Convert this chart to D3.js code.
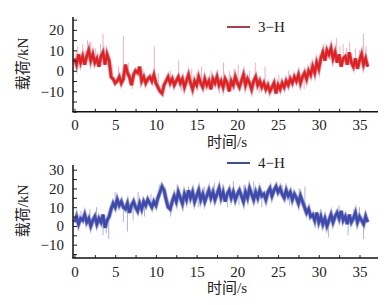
<!DOCTYPE html>
<html>
<head>
<meta charset="utf-8">
<script src="https://cdn.jsdelivr.net/npm/d3@7"></script>
<style>
  body { margin: 0; background: #fff; }
  svg text { font-family: "Liberation Serif", "DejaVu Serif", serif; fill: #222; }
  .cjk { font-family: "Noto Sans CJK SC", sans-serif; }
</style>
</head>
<body>
<div id="chart"></div>
<script>
// sample step of both records (s)
const dt = 0.25;

// 3-H load record, kN, one value every 0.25 s from 0 to 36 s
const load3H = [
  6, 3, 8, 4, 7,
  3, 7, 10, 5,   8, 4, 6, 2,   7, 9, 3, 8,   5, -3, -4, -6,
  -5, -3, -6, -4,   3, -1, -3, -7,   -2, 0, -1, 2,   -5, -3, -6, -4,
  -3, -5, -2, -6,   -8, -10, -11, -7,   -5, -3, -6, -4,   -7, -5, -3, -6,
  -4, -8, -5, -2,   -6, -9, -5, -7,   -3, -6, -8, -4,   -7, -5, -9, -4,
  -6, -3, -7, -5,   -8, -4, -6, -10,   -5, -7, -3, -6,   -8, -5, -2, -7,
  -4, -6, -9, -5,   -3, -7, -5, -8,   -6, -9, -7, -10,   -8, -6, -11, -7,
  -9, -6, -8, -5,   -7, -4, -6, -3,   -5, -2, -6, -3,   -1, -4, 0, -2,
  2, -1, 4, 1,   6, 9, 5, 10,   8, 11, 6, 9,   4, 8, 2, 6,
  7, 3, 9, 4,   2, 6, 1, 5,   8, 3, 6, 2
];
// short peaks of the 3-H record: [time s, load kN]
const peaks3H = [
  [0.2, 10], [0.4, 12], [0.7, 9], [1.0, 13], [1.3, 10], [1.6, 15], [2.0, 14],
  [2.3, 11], [2.6, 11], [3.2, 13], [3.5, 18], [3.9, 12], [4.6, 3], [5.4, 2],
  [6.0, 17], [6.6, 4], [7.1, -9], [8.4, 1], [9.8, 12], [10.3, -1], [10.7, -12],
  [11.8, 0], [12.8, 5], [13.1, -10], [14.4, 1], [15.0, -1], [15.6, 2],
  [16.8, 0], [17.4, -1], [17.8, -11], [18.3, 4], [19.0, 0], [19.6, 1],
  [20.1, 3], [21.0, -1], [21.5, 0], [22.2, 4], [22.7, -11], [23.4, 2],
  [24.6, -12], [25.1, -2], [26.3, 0], [27.0, -1], [27.6, 1], [28.2, -9],
  [29.0, 4], [29.6, 6], [30.1, 8], [30.6, 13], [31.0, 12], [31.5, 14],
  [32.2, 16], [32.6, 12], [33.0, 13], [33.4, 11], [33.8, 14], [34.5, 11],
  [35.0, 10], [35.5, 18], [35.8, 12]
];

// 4-H load record, kN, one value every 0.25 s from 0 to 36 s
const load4H = [
  2, 5, 1, 4, 3,
  6, 2, 4, 0,   3, 5, 1, 4,   2, 6, -1, 3,   5, 9, 12, 10,
  14, 11, 13, 10,   9, 12, 7, 11,   13, 10, 8, 12,   9, 13, 11, 14,
  12, 10, 13, 11,   15, 18, 21, 19,   14, 10, 9, 13,   16, 13, 18, 15,
  12, 17, 14, 19,   15, 18, 13, 16,   19, 14, 17, 13,   16, 19, 15, 18,
  14, 17, 20, 15,   18, 13, 17, 19,   15, 18, 14, 17,   19, 16, 13, 18,
  15, 20, 17, 14,   18, 15, 19, 16,   17, 14, 18, 20,   16, 19, 21, 18,
  20, 17, 15, 19,   16, 18, 14, 17,   15, 12, 16, 13,   10, 7, 9, 5,
  6, 3, 7, 2,   5, 1, 4, 0,   3, 6, 2, 5,   7, 4, 8, 3,
  5, 1, 6, 2,   4, 7, 2, 5,   3, 1, 5, 2
];
const peaks4H = [
  [0.8, 8], [1.4, 7], [1.9, 9], [2.7, 10], [3.5, -5], [3.9, -4], [4.2, -7],
  [5.0, 18], [6.0, 2], [6.5, -3], [7.2, 3], [7.8, 18], [8.6, 5], [9.4, 17],
  [10.4, 22], [11.8, 5], [12.6, 22], [13.3, 8], [14.0, 21], [15.2, 10],
  [16.0, 21], [17.2, 23], [18.2, 22], [18.8, 10], [19.5, 24], [20.2, 11],
  [20.8, 22], [22.0, 24], [23.0, 10], [24.1, 22], [25.5, 22], [26.4, 11],
  [27.6, 20], [28.3, 21], [29.6, -1], [30.2, 9], [31.2, -6], [32.5, 11],
  [33.6, -5], [34.3, 9], [35.0, 10], [35.5, -7], [35.8, 8]
];

const xTicks = d3.range(0, 36, 2.5);

const svg = d3.select("#chart").append("svg")
  .attr("width", 392).attr("height", 305);

const x = d3.scaleLinear().domain([0, 35]).range([74.5, 359.5]);

function drawPanel(cfg) {
  const y = d3.scaleLinear().domain(cfg.yDomain).range([cfg.bottom, cfg.top]);
  const g = svg.append("g");

  // light peaks
  g.selectAll(".peak")
    .data(cfg.peaks)
    .join("line")
    .attr("x1", d => x(d[0]))
    .attr("x2", d => x(d[0]))
    .attr("y1", d => y(cfg.values[Math.min(cfg.values.length - 1, Math.round(d[0] / dt))]))
    .attr("y2", d => y(d[1]))
    .attr("stroke", cfg.light)
    .attr("stroke-width", 1);

  const line = d3.line()
    .x((d, i) => x(i * dt))
    .y(d => y(d));

  g.append("path")
    .datum(cfg.values)
    .attr("fill", "none")
    .attr("stroke", cfg.light)
    .attr("stroke-width", 5)
    .attr("stroke-opacity", 0.7)
    .attr("d", line);

  g.append("path")
    .datum(cfg.values)
    .attr("fill", "none")
    .attr("stroke", cfg.dark)
    .attr("stroke-width", 3.4)
    .attr("stroke-opacity", 0.6)
    .attr("d", line);

  g.append("path")
    .datum(cfg.values)
    .attr("fill", "none")
    .attr("stroke", cfg.color)
    .attr("stroke-width", 2)
    .attr("d", line);

  // y axis, ticks pointing inward
  const yAxis = d3.axisLeft(y)
    .tickValues(cfg.yTicks)
    .tickSizeInner(-4)
    .tickSizeOuter(0)
    .tickPadding(9)
    .tickFormat(d => (cfg.yLabels.includes(d) ? d3.format("d")(d) : ""));
  const ya = g.append("g").attr("transform", "translate(73,0)").call(yAxis);
  ya.select(".domain").remove();
  ya.selectAll("text").style("font-size", "15px");
  ya.selectAll("line").attr("stroke", "#222");

  const xAxis = d3.axisBottom(x)
    .tickValues(xTicks)
    .tickSizeInner(-3)
    .tickSizeOuter(0)
    .tickPadding(8)
    .tickFormat(d => (d % 5 === 0 ? d : ""));
  const xa = g.append("g").attr("transform", `translate(0,${cfg.bottom})`).call(xAxis);
  xa.select(".domain").remove();
  xa.selectAll("text").style("font-size", "15px");
  xa.selectAll("line").attr("stroke", "#222");

  // axis lines
  g.append("line")
    .attr("x1", 73).attr("x2", 73)
    .attr("y1", cfg.top).attr("y2", cfg.bottom)
    .attr("stroke", "#111").attr("stroke-width", 1.5);
  g.append("line")
    .attr("x1", 72.3).attr("x2", 378)
    .attr("y1", cfg.bottom).attr("y2", cfg.bottom)
    .attr("stroke", "#111").attr("stroke-width", 1.5);

  // axis titles
  g.append("text")
    .attr("x", 227).attr("y", cfg.bottom + 35)
    .attr("text-anchor", "middle")
    .style("font-size", "15px")
    .html('<tspan class="cjk">时间</tspan>/s');

  g.append("text")
    .attr("transform", `translate(28,${cfg.titleY}) rotate(-90)`)
    .attr("text-anchor", "middle")
    .style("font-size", "15px")
    .html('<tspan class="cjk">载荷</tspan>/kN');

  // legend
  g.append("line")
    .attr("x1", 227).attr("x2", 250)
    .attr("y1", cfg.legendY).attr("y2", cfg.legendY)
    .attr("stroke", cfg.legendColor).attr("stroke-width", 2);
  g.append("text")
    .attr("x", 258).attr("y", cfg.legendY + 5)
    .style("font-size", "15px")
    .text(cfg.label);
}

drawPanel({
  values: load3H, peaks: peaks3H,
  yDomain: [-20, 26.3], yTicks: d3.range(-20, 26, 5), yLabels: [-10, 0, 10, 20],
  top: 17, bottom: 111.7, titleY: 64, legendY: 27,
  color: "#e41d1d", dark: "#a0101a", light: "#eeb0bd",
  legendColor: "#a0434f", label: "3\u2212H"
});

drawPanel({
  values: load4H, peaks: peaks4H,
  yDomain: [-17.1, 32.5], yTicks: d3.range(-15, 31, 5), yLabels: [-10, 0, 10, 20, 30],
  top: 165, bottom: 258, titleY: 211, legendY: 163,
  color: "#3a48b0", dark: "#1c2470", light: "#b0b2e2",
  legendColor: "#414c8e", label: "4\u2212H"
});
</script>
</body>
</html>
